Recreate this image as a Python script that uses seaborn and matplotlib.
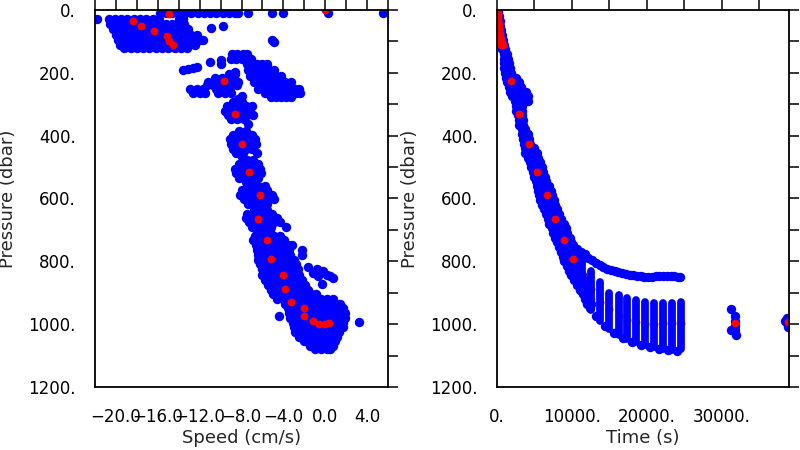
import numpy as np
import pandas as pd
import seaborn as sns
import matplotlib.pyplot as plt
import matplotlib.ticker as mtick

# ---- left panel: speed vs pressure ----
# blue cloud, rows of (pressure, [speeds])
speed_rows = [
    (10, [-15.8, -15.2, -14.6, -14.0, -13.4, -12.8, -12.2, -11.6, -11.0, -10.4, -9.8, -9.2, -8.6, -8.3]),
    (8, [-7.4, -5.1, -4.0, 0.3, 5.5]),
    (30, [-21.8, -20.7, -20.1, -19.5, -18.9, -18.3, -17.7, -17.1, -16.5, -15.9, -14.0, -13.6]),
    (45, [-20.6, -20.0, -19.4, -18.8, -18.2, -17.6, -17.0, -16.4, -15.8, -15.2, -14.6, -14.0, -13.5]),
    (62, [-20.3, -19.7, -19.1, -18.5, -17.9, -17.3, -16.7, -16.1, -15.5, -14.9, -14.3, -13.7, -13.1]),
    (80, [-20.0, -19.4, -18.8, -18.2, -17.6, -17.0, -16.4, -15.8, -15.2, -14.6, -14.0, -13.4, -12.8, -12.3]),
    (97, [-19.8, -19.2, -18.6, -18.0, -17.4, -16.8, -16.2, -15.6, -15.0, -14.4, -13.8, -13.2, -12.6, -12.0, -11.7]),
    (112, [-19.6, -19.0, -18.4, -17.8, -17.2, -16.6, -16.0, -15.4, -14.8, -14.2, -13.6, -13.0, -12.4]),
    (122, [-19.2, -18.6, -18.0, -17.4, -16.8, -16.2, -15.6, -15.0, -14.4, -13.8, -13.2]),
    (58, [-10.9]), (52, [-9.8]), (95, [-5.1]), (103, [-4.9]),
    (190, [-13.6]), (187, [-13.1]), (185, [-12.6]), (183, [-12.3]),
    (166, [-11.0]), (159, [-9.95]), (172, [-9.95]),
    (140, [-8.9, -8.4, -7.9, -7.5]),
    (155, [-9.0, -8.5, -8.0, -7.5, -7.1]),
    (172, [-7.5, -7.0, -6.5, -6.0, -5.6]),
    (190, [-7.4, -6.9, -6.4, -5.9, -5.4, -4.9]),
    (210, [-7.2, -6.7, -6.2, -5.7, -5.2, -4.7, -4.2]),
    (230, [-6.8, -6.3, -5.8, -5.3, -4.8, -4.3, -3.8, -3.3]),
    (250, [-6.4, -5.9, -5.4, -4.9, -4.4, -3.9, -3.4, -2.9, -2.5]),
    (265, [-5.8, -5.3, -4.8, -4.3, -3.8, -3.3, -2.8, -2.4]),
    (278, [-5.2, -4.7, -4.2, -3.7, -3.3]),
    (198, [-8.6]), (205, [-9.2, -8.6]),
    (215, [-10.5, -9.9, -9.3, -8.7]),
    (228, [-11.2, -10.6, -10.0, -9.4, -8.8, -8.3]),
    (240, [-11.3, -10.7, -10.1, -9.5, -8.9, -8.4]),
    (252, [-12.9, -12.3, -11.7, -10.4, -9.8, -9.2]),
    (264, [-12.6, -12.0, -11.5, -10.2, -9.6, -9.0]),
    (275, [-8.0]), (283, [-8.3]), (292, [-8.8, -8.0]),
    (305, [-9.4, -8.8, -8.2, -7.6, -7.0]),
    (320, [-9.6, -9.0, -8.4, -7.8, -7.2]),
    (335, [-9.3, -8.7, -8.1, -7.5, -6.9]),
    (348, [-9.0, -8.4, -7.8]), (362, [-7.4]),
    (385, [-8.2, -7.6]),
    (398, [-8.8, -8.2, -7.6, -7.0]),
    (412, [-9.1, -8.5, -7.9, -7.3, -6.7]),
    (428, [-9.0, -8.4, -7.8, -7.2, -6.6]),
    (443, [-8.8, -8.2, -7.6, -7.0]),
    (456, [-8.5, -7.9, -6.5]), (468, [-8.0]),
    (478, [-7.5, -6.9]),
    (490, [-8.2, -7.6, -7.0, -6.4]),
    (505, [-8.6, -8.0, -7.4, -6.8, -6.2]),
    (520, [-8.5, -7.9, -7.3, -6.7, -6.1]),
    (535, [-8.2, -7.6, -7.0, -6.4]),
    (548, [-7.6, -7.0]),
    (560, [-7.0, -6.4, -5.8]),
    (573, [-8.0, -7.4, -6.8, -6.2, -5.6]),
    (588, [-8.1, -7.5, -6.9, -6.3, -5.7, -5.1]),
    (603, [-7.8, -7.2, -6.6, -6.0, -5.4, -4.9]),
    (616, [-7.4, -6.8, -6.2, -5.6]),
    (636, [-6.8, -6.2, -5.6]),
    (648, [-7.5, -6.9, -6.3, -5.7, -5.1]),
    (662, [-7.6, -7.0, -6.4, -5.8, -5.2, -4.6]),
    (676, [-7.3, -6.7, -6.1, -5.5, -4.9, -4.3]),
    (690, [-7.0, -6.4, -5.8, -5.2, -3.7]),
    (704, [-6.5, -5.9, -5.3]),
    (718, [-6.7, -6.1, -5.5, -4.9, -4.3]),
    (732, [-6.9, -6.3, -5.7, -5.1, -4.5, -3.9]),
    (748, [-6.6, -6.0, -5.4, -4.8, -4.2, -3.6, -3.2]),
    (764, [-6.5, -5.9, -5.3, -4.7, -4.1, -3.5, -2.2]),
    (779, [-6.4, -5.8, -5.2, -4.6, -4.0, -3.4, -2.2]),
    (795, [-6.4, -5.8, -5.2, -4.6, -4.0, -3.4, -3.0]),
    (810, [-6.2, -5.6, -5.0, -4.4, -3.8, -3.2, -2.8]),
    (826, [-6.0, -5.4, -4.8, -4.2, -3.6, -3.0, -2.6]),
    (842, [-6.0, -5.4, -4.8, -4.2, -3.6, -3.0, -2.5]),
    (858, [-5.8, -5.2, -4.6, -4.0, -3.4, -2.8, -2.2]),
    (874, [-5.5, -4.9, -4.3, -3.7, -3.1, -2.5, -1.9]),
    (890, [-5.2, -4.6, -4.0, -3.4, -2.8, -2.2, -1.6]),
    (818, [-1.6]), (825, [-0.8]), (832, [-0.2]), (848, [0.46, -0.66]),
    (852, [0.75]), (871, [-0.3]), (838, [-1.14]), (845, [0.2]),
    (905, [-5.0, -4.4, -3.8, -3.2, -2.6, -2.0, -1.4, -0.9]),
    (920, [-4.6, -4.0, -3.4, -2.8, -2.2, -1.6, -1.0, -0.4, 0.2, 0.75]),
    (935, [-3.8, -3.2, -2.6, -2.0, -1.4, -0.8, -0.2, 0.4, 1.0, 1.4]),
    (950, [-3.6, -3.0, -2.4, -1.8, -1.2, -0.6, 0.0, 0.6, 1.2, 1.7]),
    (965, [-3.5, -2.9, -2.3, -1.7, -1.1, -0.5, 0.1, 0.7, 1.3, 1.9]),
    (980, [-3.4, -2.8, -2.2, -1.6, -1.0, -0.4, 0.2, 0.8, 1.4, 1.9]),
    (995, [-3.1, -2.5, -1.9, -1.3, -0.7, -0.1, 0.5, 1.1, 1.7]),
    (1010, [-3.0, -2.4, -1.8, -1.2, -0.6, 0.0, 0.6, 1.2, 1.7]),
    (1025, [-2.9, -2.3, -1.7, -1.1, -0.5, 0.1, 0.7, 1.3]),
    (1040, [-2.5, -1.9, -1.3, -0.7, -0.1, 0.5, 1.1]),
    (1055, [-2.0, -1.4, -0.8, -0.2, 0.4, 0.9]),
    (1068, [-1.5, -0.9, -0.3, 0.3, 0.7]),
    (1080, [-1.0, -0.4, 0.2, 0.5]),
    (974, [-4.4]), (993, [3.2]),
]

# red: profile means
mean_speed = [0.0, -14.9, -18.4, -17.6, -16.4, -15.1, -14.9, -14.5, -9.7, -8.6, -8.0,
              -7.25, -6.2, -6.45, -5.56, -5.2, -4.03, -3.84, -3.27, -2.0, -2.0,
              -1.14, -0.56, 0.0, 0.4]
mean_pres_l = [0, 14, 34, 51, 68, 82, 98, 111, 226, 331, 427,
               515, 588, 666, 732, 794, 842, 887, 928, 950, 974,
               989, 1000, 1000, 997]

# ---- right panel: time vs pressure ----
time_rows = [
    (5, [0, 150]), (20, [50, 250]), (35, [100, 350]), (50, [150, 450]),
    (65, [200, 550]), (80, [250, 650]), (95, [300, 750]), (110, [400, 900]),
    (125, [700, 1100]), (140, [900, 1300]), (155, [1000, 1500]), (170, [1000, 1600]),
    (185, [1000, 1800]), (200, [1100, 1900]), (215, [1200, 2000, 2600]),
    (230, [1400, 2200, 3000]), (245, [1600, 2400, 3200]),
    (260, [1700, 2500, 3300, 3900]), (275, [2000, 2800, 3600, 4100]),
    (290, [2400, 3200, 4200]), (305, [2600, 3300]), (320, [2600, 3300]),
    (335, [2800, 3400]), (350, [2900, 3500]), (365, [3000, 3500]),
    (380, [3300, 3800]), (395, [3400, 4100]), (410, [3500, 4300]),
    (425, [3600, 4400]), (440, [3700, 4500, 5000]), (455, [3800, 4600, 5300]),
    (470, [4100, 4900, 5500]), (485, [4400, 5200, 5800]), (500, [4600, 5400, 6000]),
    (515, [4800, 5600, 6200]), (530, [5000, 5800, 6400]), (545, [5200, 6000, 6600]),
    (560, [5400, 6200, 7000]), (575, [5500, 6300, 7200]), (590, [5600, 6400, 7400]),
    (605, [5800, 6600, 7600]), (620, [6000, 6800, 7800]), (635, [6300, 7100, 8000]),
    (650, [6500, 7300, 8300]), (665, [6800, 7600, 8600]), (680, [7000, 7800, 8900]),
    (695, [7300, 8100, 9200]), (710, [7500, 8300, 9400]), (725, [7800, 8600, 9700]),
    (740, [8000, 8800, 9900]), (755, [8300, 9100, 10100]), (770, [8600, 9400, 10300]),
    (785, [8800, 9600, 10500]), (800, [9000, 9800, 10700]), (815, [9300, 10100, 10900]),
    (830, [9600, 10400, 11100]), (845, [9900, 10600, 11300]), (860, [10300, 11000, 11600]),
    (875, [10700, 11400, 12000]), (890, [11100, 11700, 12300]), (905, [11500, 12100]),
    (920, [11800, 12400]), (935, [12000, 12600]), (950, [12400]),
    # shallower branch levelling off near 850 dbar
    (748, [10200]), (760, [10700]), (770, [11200]), (778, [11700]), (788, [12200]),
    (796, [12700]), (805, [13200]), (812, [13700]), (818, [14200]), (824, [14700]),
    (829, [15200]), (832, [15700]), (835, [16200]), (838, [16700]), (840, [17200]),
    (842, [17700]), (844, [18200]), (846, [18700]), (847, [19200, 21700, 22200, 22700]),
    (849, [19700, 20700, 24200, 24500]), (850, [20200]), (848, [21200, 23200, 23700]),
    # lower envelope between profiles
    (934, [12000]), (975, [13200]), (1005, [14400]), (1028, [15600]), (1045, [16800]),
    (1056, [18000]), (1065, [19200]), (1072, [20400]), (1078, [21600]),
    (1082, [22800]), (1084, [24000]),
    # later isolated profiles
    (953, [31200]), (975, [31800]), (990, [31800]), (1005, [31800]), (1020, [31800, 31200]),
    (1035, [31900]), (980, [38700]), (995, [38700]), (1010, [38800]), (990, [38500]),
]

# profiles as vertical pressure ranges
profile_time = [11400, 12600, 13800, 15000, 16260, 17420, 18600, 19800, 21000, 22200, 23400, 24600]
profile_top = [790, 830, 865, 902, 907, 918, 923, 928, 932, 932, 932, 928]
profile_bottom = [900, 955, 990, 1015, 1035, 1048, 1058, 1066, 1073, 1078, 1082, 1078]

mean_time = [50, 150, 100, 200, 150, 250, 200, 320, 280, 400, 350, 480, 430, 600, 550, 750,
             1870, 2980, 4270, 5390, 6640, 7790, 8950, 10200, 11400, 12600, 13800,
             15000, 16260, 17420, 18600, 19800, 21000, 22200, 23400, 24600, 31800, 38800]
mean_pres_r = [3, 10, 20, 28, 38, 45, 55, 62, 72, 78, 88, 92, 100, 102, 110, 112,
               226, 331, 427, 515, 588, 666, 732, 794, 842, 887, 928,
               953, 974, 988, 993, 1000, 1000, 997, 995, 997, 997, 993]


def flatten(rows):
    xs, ps = [], []
    for p, vals in rows:
        xs += vals
        ps += [p] * len(vals)
    return pd.DataFrame({'x': xs, 'p': ps})


def style_axis(ax):
    ax.set_ylim(1200, 0)
    ax.yaxis.set_major_locator(mtick.MultipleLocator(200))
    ax.yaxis.set_minor_locator(mtick.MultipleLocator(100))
    ax.yaxis.set_major_formatter(mtick.FuncFormatter(lambda v, _: f'{v:.0f}.'))
    ax.tick_params(which='both', direction='out', length=7, width=1.1,
                   top=True, right=True, labelsize=12, colors='black')
    ax.tick_params(axis='y', pad=7)
    ax.tick_params(axis='x', pad=8)
    for s in ax.spines.values():
        s.set_linewidth(1.3)
        s.set_color('black')
    ax.set_ylabel('Pressure (dbar)', fontsize=13, labelpad=8)


sns.set_style('white')
plt.rcParams['font.family'] = ['DejaVu Sans']

fig = plt.figure(figsize=(8, 4.5), dpi=100)
ax1 = fig.add_axes([0.11875, 0.14, 0.36625, 0.8378])
ax2 = fig.add_axes([0.62125, 0.14, 0.365, 0.8378])

blue_l = flatten(speed_rows)
sns.scatterplot(data=blue_l, x='x', y='p', color='#0000ff', s=46, linewidth=0, ax=ax1)
sns.scatterplot(x=mean_speed, y=mean_pres_l, color='#ff0000', s=32, linewidth=0, ax=ax1)
ax1.set_xlim(-22, 6)
ax1.xaxis.set_major_locator(mtick.MultipleLocator(4))
ax1.xaxis.set_minor_locator(mtick.MultipleLocator(2))
ax1.xaxis.set_major_formatter(mtick.FuncFormatter(lambda v, _: f'{v:.1f}'.replace('-', '\u2212')))
style_axis(ax1)
ax1.set_xlabel('Speed (cm/s)', fontsize=13, labelpad=2)

blue_r = flatten(time_rows)
ax2.vlines(profile_time, profile_top, profile_bottom, colors='#0000ff',
           linewidth=5.6, capstyle='round')
sns.scatterplot(data=blue_r, x='x', y='p', color='#0000ff', s=46, linewidth=0, ax=ax2)
sns.scatterplot(x=mean_time, y=mean_pres_r, color='#ff0000', s=32, linewidth=0, ax=ax2)
ax2.set_xlim(0, 39000)
ax2.xaxis.set_major_locator(mtick.FixedLocator([0, 10000, 20000, 30000]))
ax2.xaxis.set_minor_locator(mtick.MultipleLocator(5000))
ax2.xaxis.set_major_formatter(mtick.FuncFormatter(lambda v, _: f'{v:.0f}.'))
style_axis(ax2)
ax2.set_xlabel('Time (s)', fontsize=13, labelpad=2)

fig.savefig('out.png', dpi=100)
